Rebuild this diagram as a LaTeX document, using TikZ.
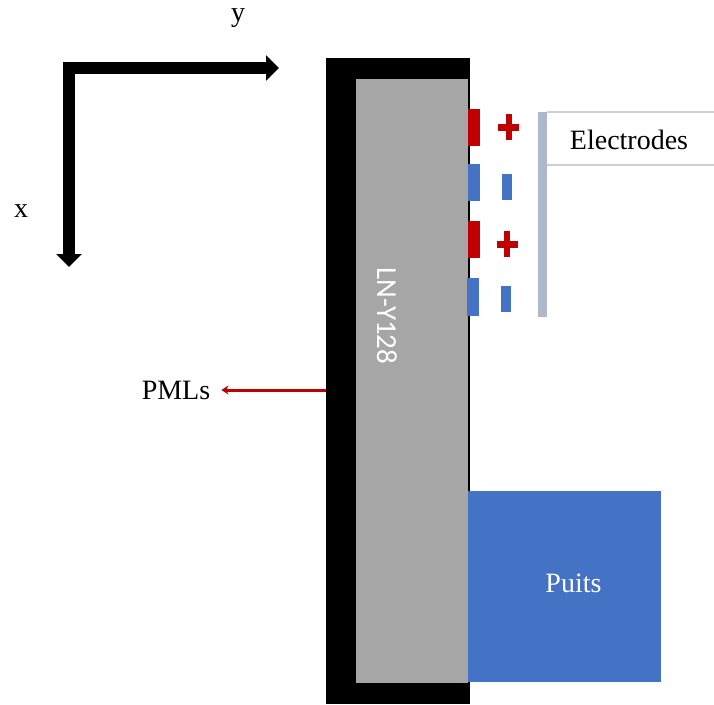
\documentclass[tikz,border=0pt]{standalone}
\usepackage{fontspec}
\setmainfont{Liberation Serif}
\newfontfamily\calib{Carlito}
\usetikzlibrary{arrows.meta}
\definecolor{elred}{HTML}{C00000}
\definecolor{elblue}{HTML}{4472C4}
\definecolor{bargray}{HTML}{ADB9CA}
\definecolor{lngray}{HTML}{A6A6A6}
\definecolor{boxline}{HTML}{D0D0D0}
\tikzset{
  blk/.style={anchor=north west, inner sep=0pt, outer sep=0pt, draw=none},
  lbl/.style={inner sep=0pt, font=\fontsize{28}{30}\selectfont},
  pmlarrow/.style={line width=3pt, elred, -{Stealth[width=9pt,length=7pt]}},
}
\begin{document}
\begin{tikzpicture}[x=1pt,y=-1pt]
\useasboundingbox (0,0) rectangle (714,704);
% axes
\coordinate (o) at (69,68);
\coordinate (xend) at (69,267);
\coordinate (yend) at (279,68);
\draw[line width=12pt, line join=miter, {Triangle[width=25pt,length=13pt]}-{Triangle[width=25pt,length=13pt]}] (xend) -- (o) -- (yend);
\node[lbl] (xl) at (21,211) {x};
\node[lbl] (yl) at (238,18) {y};
% frame and substrate
\node[blk, fill=black, minimum width=144pt, minimum height=646pt] (frame) at (326,58) {};
\node[blk, fill=lngray, minimum width=112pt, minimum height=604pt] (sub) at (356,79) {};
\node[inner sep=0pt, rotate=-90, text=white, font=\calib\fontsize{29}{30}\selectfont] (ln) at (387,316) {LN-Y128};
% puits
\node[blk, fill=elblue, minimum width=193pt, minimum height=191pt] (puits) at (468,491) {};
\node[lbl, text=white] (pt) at ([xshift=9pt,yshift=3pt]puits.center) {Puits};
% electrodes
\node[blk, fill=elred, minimum width=12pt, minimum height=37pt] (r1) at (468,109) {};
\node[blk, fill=elblue, minimum width=12pt, minimum height=37pt] (b1) at (468,164) {};
\node[blk, fill=elred, minimum width=12pt, minimum height=37pt] (r2) at (468,221) {};
\node[blk, fill=elblue, minimum width=12pt, minimum height=38pt] (b2) at (467,278) {};
% plus signs
\foreach \cx/\cy/\nm in {508.5/127/p1, 507/244/p2}{
  \node[inner sep=0pt, fill=elred, minimum width=21pt, minimum height=7pt] (\nm h) at (\cx,\cy) {};
  \node[inner sep=0pt, fill=elred, minimum width=6pt, minimum height=26pt] (\nm v) at (\cx,\cy) {};
}
% minus signs
\node[blk, fill=elblue, minimum width=10pt, minimum height=26pt] (m1) at (502,174) {};
\node[blk, fill=elblue, minimum width=10pt, minimum height=26pt] (m2) at (501,286) {};
% bar and label box
\node[blk, fill=bargray, minimum width=9pt, minimum height=205pt] (bar) at (538,112) {};
\coordinate (bt) at (547,112);
\coordinate (bb) at (547,165);
\draw[boxline, line width=1.5pt] (bt) -- (714,112);
\draw[boxline, line width=1.5pt] (bb) -- (714,165);
\node[lbl] (el) at (629,140) {Electrodes};
% PMLs
\node[lbl] (pml) at (176,390) {PMLs};
\draw[pmlarrow] (frame.west |- pml.east) -- ([xshift=11pt]pml.east);
\end{tikzpicture}
\end{document}
